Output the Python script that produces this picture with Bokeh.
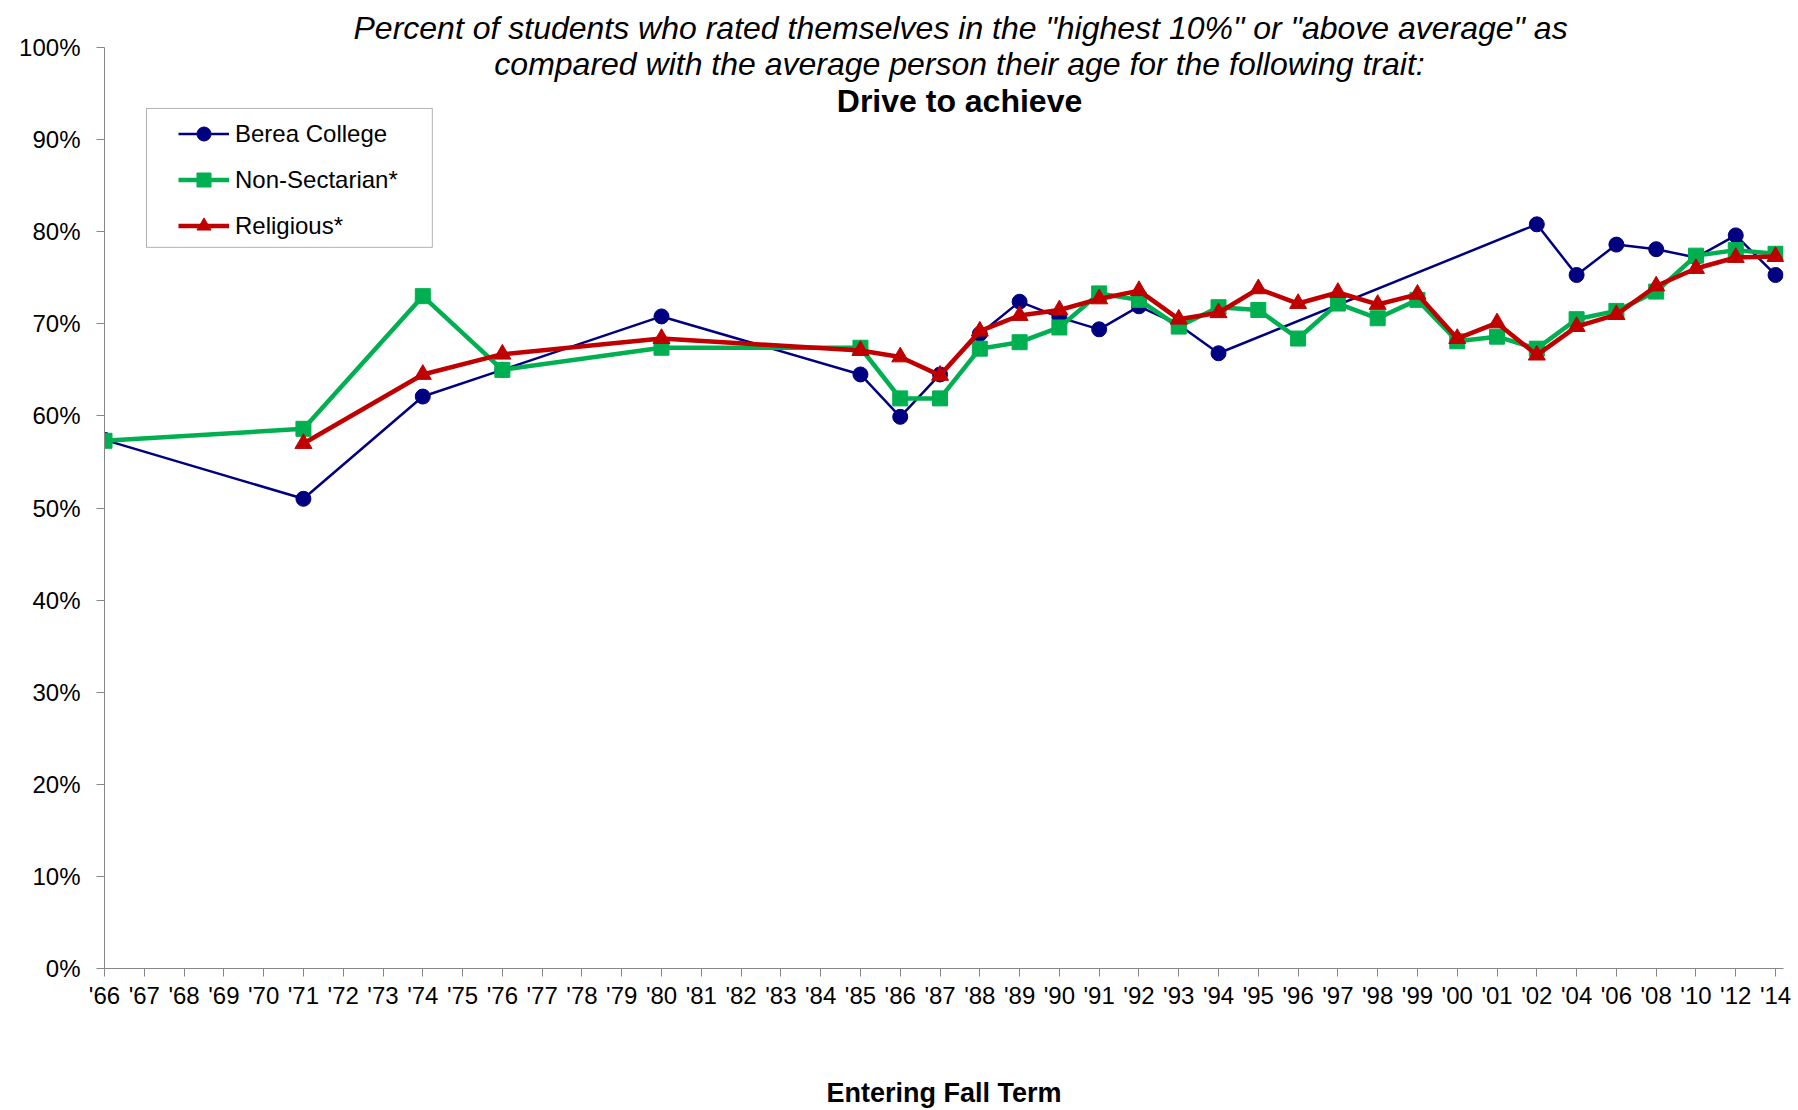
from bokeh.plotting import figure
from bokeh.models import Range1d, FixedTicker, PrintfTickFormatter, Label, Legend, LegendItem, BoxAnnotation
from bokeh.embed import file_html
from bokeh.resources import INLINE

# ---- data ----
categories = ["'66", "'67", "'68", "'69", "'70", "'71", "'72", "'73", "'74", "'75", "'76", "'77",
              "'78", "'79", "'80", "'81", "'82", "'83", "'84", "'85", "'86", "'87", "'88", "'89",
              "'90", "'91", "'92", "'93", "'94", "'95", "'96", "'97", "'98", "'99", "'00", "'01",
              "'02", "'04", "'06", "'08", "'10", "'12", "'14"]

berea_years = ["'66", "'71", "'74", "'76", "'80", "'85", "'86", "'87", "'88", "'89", "'90", "'91",
               "'92", "'93", "'94", "'02", "'04", "'06", "'08", "'10", "'12", "'14"]
berea_vals = [57.4, 51.0, 62.1, 65.0, 70.8, 64.5, 59.9, 64.5, 68.9, 72.4, 70.7, 69.4,
              71.9, 69.9, 66.8, 80.8, 75.3, 78.6, 78.1, 77.2, 79.6, 75.3]

nonsec_years = ["'66", "'71", "'74", "'76", "'80", "'85", "'86", "'87", "'88", "'89", "'90", "'91",
                "'92", "'93", "'94", "'95", "'96", "'97", "'98", "'99", "'00", "'01", "'02", "'04",
                "'06", "'08", "'10", "'12", "'14"]
nonsec_vals = [57.3, 58.6, 73.0, 65.0, 67.4, 67.4, 61.9, 61.9, 67.3, 68.0, 69.6, 73.3,
               72.6, 69.7, 71.8, 71.5, 68.4, 72.2, 70.6, 72.6, 68.1, 68.6, 67.3, 70.5,
               71.4, 73.5, 77.4, 78.0, 77.6]

relig_years = ["'71", "'74", "'76", "'80", "'85", "'86", "'87", "'88", "'89", "'90", "'91", "'92",
               "'93", "'94", "'95", "'96", "'97", "'98", "'99", "'00", "'01", "'02", "'04", "'06",
               "'08", "'10", "'12", "'14"]
relig_vals = [57.0, 64.5, 66.7, 68.4, 67.1, 66.4, 64.4, 69.2, 70.9, 71.5, 72.7, 73.6,
              70.5, 71.2, 73.8, 72.2, 73.4, 72.1, 73.2, 68.4, 70.1, 66.6, 69.7, 71.0,
              74.1, 76.0, 77.2, 77.3]

y_ticks = [0, 10, 20, 30, 40, 50, 60, 70, 80, 90, 100]

title_lines = ['Percent of students who rated themselves in the "highest 10%" or "above average" as',
               'compared with the average person their age for the following trait:']
title_bold = "Drive to achieve"
x_title = "Entering Fall Term"

FONT = "Liberation Sans"
BLUE = "#000080"
GREEN = "#00B050"
RED = "#C00000"
AXIS = "#868686"


def idx(years):
    return [categories.index(y) for y in years]


n = len(categories)
pad_r = 0.2

p = figure(width=1798, height=1110, output_backend="svg", toolbar_location=None,
           x_range=Range1d(0, n - 1 + pad_r), y_range=Range1d(0, 100),
           min_border_left=104, min_border_right=15, min_border_top=47, min_border_bottom=141)
p.outline_line_color = None
p.grid.visible = False
p.background_fill_color = "white"
p.border_fill_color = "white"

# title line 1 (sits above the plot frame)
p.title.text = title_lines[0]
p.title.text_font = FONT
p.title.text_font_style = "italic"
p.title.text_font_size = "32px"
p.title.text_color = "black"
p.title.align = "left"
p.title.offset = 249
p.title.standoff = 4

# y axis
p.yaxis.ticker = FixedTicker(ticks=y_ticks)
p.yaxis.formatter = PrintfTickFormatter(format="%d%%")
p.yaxis.axis_line_color = AXIS
p.yaxis.major_tick_line_color = AXIS
p.yaxis.major_tick_in = 0
p.yaxis.major_tick_out = 8
p.yaxis.minor_tick_line_color = None
p.yaxis.major_label_text_font = FONT
p.yaxis.major_label_text_font_size = "24px"
p.yaxis.major_label_text_color = "black"
p.yaxis.major_label_standoff = 16

# x axis
p.xaxis.ticker = FixedTicker(ticks=list(range(n)))
p.xaxis.major_label_overrides = {i: c for i, c in enumerate(categories)}
p.xaxis.axis_line_color = AXIS
p.xaxis.major_tick_line_color = AXIS
p.xaxis.major_tick_in = 0
p.xaxis.major_tick_out = 8
p.xaxis.minor_tick_line_color = None
p.xaxis.major_label_text_font = FONT
p.xaxis.major_label_text_font_size = "24px"
p.xaxis.major_label_text_color = "black"
p.xaxis.major_label_standoff = 5
p.xaxis.axis_label = x_title
p.xaxis.axis_label_text_font = FONT
p.xaxis.axis_label_text_font_style = "bold"
p.xaxis.axis_label_text_font_size = "27px"
p.xaxis.axis_label_text_color = "black"
p.xaxis.axis_label_standoff = 66

# series
b_line = p.line(idx(berea_years), berea_vals, line_color=BLUE, line_width=2.5)
b_pts = p.scatter(idx(berea_years), berea_vals, marker="circle", size=15, fill_color=BLUE, line_color=BLUE)
n_line = p.line(idx(nonsec_years), nonsec_vals, line_color=GREEN, line_width=4.5)
n_pts = p.scatter(idx(nonsec_years), nonsec_vals, marker="square", size=15, fill_color=GREEN, line_color=GREEN)
r_line = p.line(idx(relig_years), relig_vals, line_color=RED, line_width=4.5)
r_pts = p.scatter(idx(relig_years), relig_vals, marker="triangle", size=17, fill_color=RED, line_color=RED)

# remaining title lines (overlap the plot area as in the reference)
p.add_layout(Label(x=21.49, y=98.26, text=title_lines[1], text_align="center", text_baseline="middle",
                   text_font=FONT, text_font_style="italic", text_font_size="32px", text_color="black"))
p.add_layout(Label(x=21.49, y=94.2, text=title_bold, text_align="center", text_baseline="middle",
                   text_font=FONT, text_font_style="bold", text_font_size="32px", text_color="black"))

# legend frame (drawn separately so its inner spacing can match the reference)
p.add_layout(BoxAnnotation(left=1.056, right=8.24, top=93.38, bottom=78.3,
                           fill_color="white", fill_alpha=1.0, line_color="black", line_width=1,
                           level="annotation"))

legend = Legend(items=[LegendItem(label="Berea College", renderers=[b_line, b_pts]),
                       LegendItem(label="Non-Sectarian*", renderers=[n_line, n_pts]),
                       LegendItem(label="Religious*", renderers=[r_line, r_pts])],
                location=(74, 725), orientation="vertical",
                padding=6, spacing=11, glyph_height=35, label_height=20, glyph_width=51,
                label_standoff=6, margin=0,
                label_text_font=FONT, label_text_font_size="24px", label_text_color="black",
                border_line_color=None, background_fill_alpha=0.0)
p.add_layout(legend)

open("out.html", "w").write(file_html(p, INLINE))
